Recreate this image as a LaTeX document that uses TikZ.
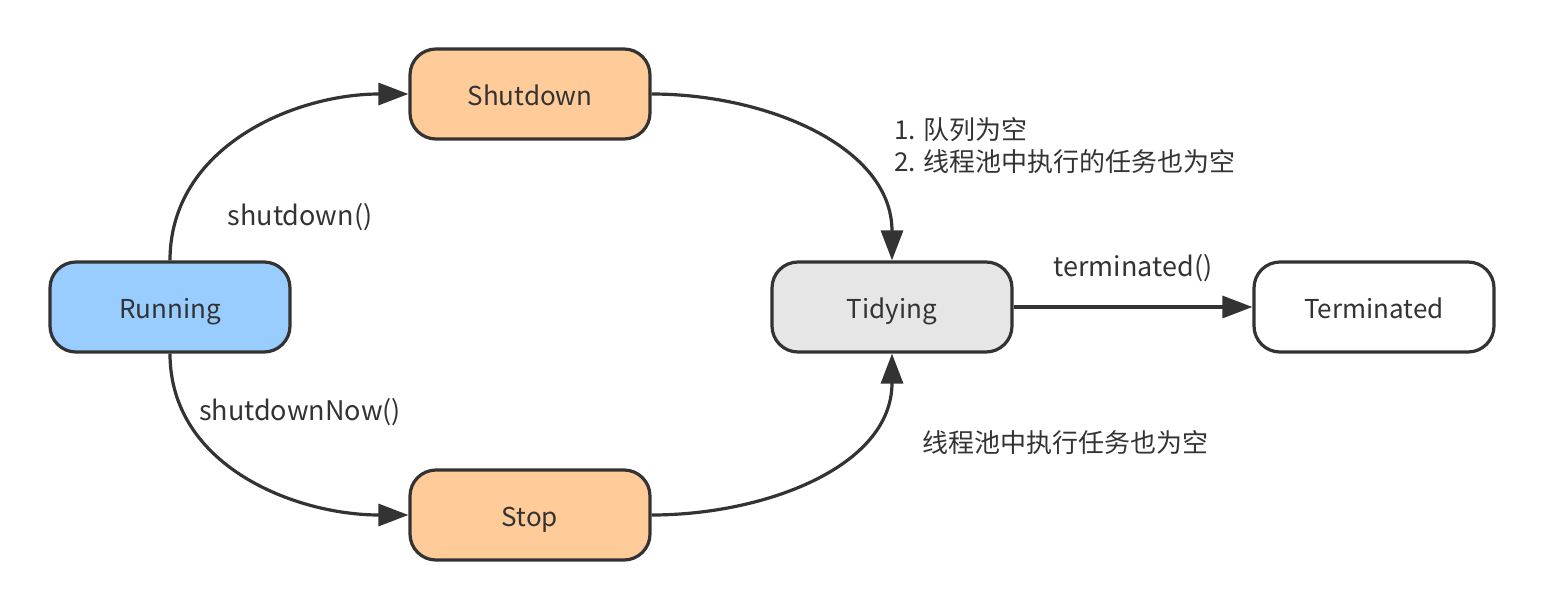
\documentclass[tikz,border=0pt]{standalone}
\usepackage{fontspec}
\setmainfont{Noto Sans CJK SC}
\usetikzlibrary{arrows.meta}
\definecolor{ink}{HTML}{333333}
\definecolor{runblue}{HTML}{99CCFF}
\definecolor{peach}{HTML}{FFCC99}
\definecolor{lgray}{HTML}{E6E6E6}
\tikzset{
  state/.style={draw=ink, line width=3.2pt, rounded corners=26pt, minimum width=240pt, minimum height=90pt, text=ink, font=\fontsize{26}{30}\selectfont, inner sep=0pt, text height=22pt, text depth=0pt},
  conn/.style={draw=ink, line width=3.2pt, -{Triangle[length=30pt,width=22pt]}},
  lbl/.style={text=ink, font=\fontsize{27}{32}\selectfont, inner sep=0pt, text height=22pt, text depth=0pt},
  zhlbl/.style={lbl, font=\fontsize{26}{32}\selectfont}
}
\begin{document}
\begin{tikzpicture}[x=1pt,y=-1pt]
\useasboundingbox (0,0) rectangle (1544,610);
\node[state, fill=runblue] (run) at (170,307) {Running};
\node[state, fill=peach] (shut) at (530,94) {Shutdown};
\node[state, fill=peach] (stop) at (530,515) {Stop};
\node[state, fill=lgray] (tidy) at (892,307) {Tidying};
\node[state, fill=white] (term) at (1374,307) {Terminated};
\draw[conn] (run.north) to[out=90,in=180] (shut.west);
\draw[conn] (run.south) to[out=-90,in=180] (stop.west);
\draw[conn] (shut.east) to[out=0,in=90] (tidy.north);
\draw[conn] (stop.east) to[out=0,in=-90] (tidy.south);
\draw[conn] (tidy.east) -- (term.west);
\node[lbl] (l1) at (300,214) {shutdown()};
\node[lbl] (l2) at (300,409) {shutdownNow()};
\node[zhlbl, anchor=west] (l3a) at (894,128) {1. 队列为空};
\node[zhlbl, anchor=west] (l3b) at (894,160) {2. 线程池中执行的任务也为空};
\node[lbl] (l4) at (1133,265) {terminated()};
\node[zhlbl] (l5) at (1065,441) {线程池中执行任务也为空};
\end{tikzpicture}
\end{document}
